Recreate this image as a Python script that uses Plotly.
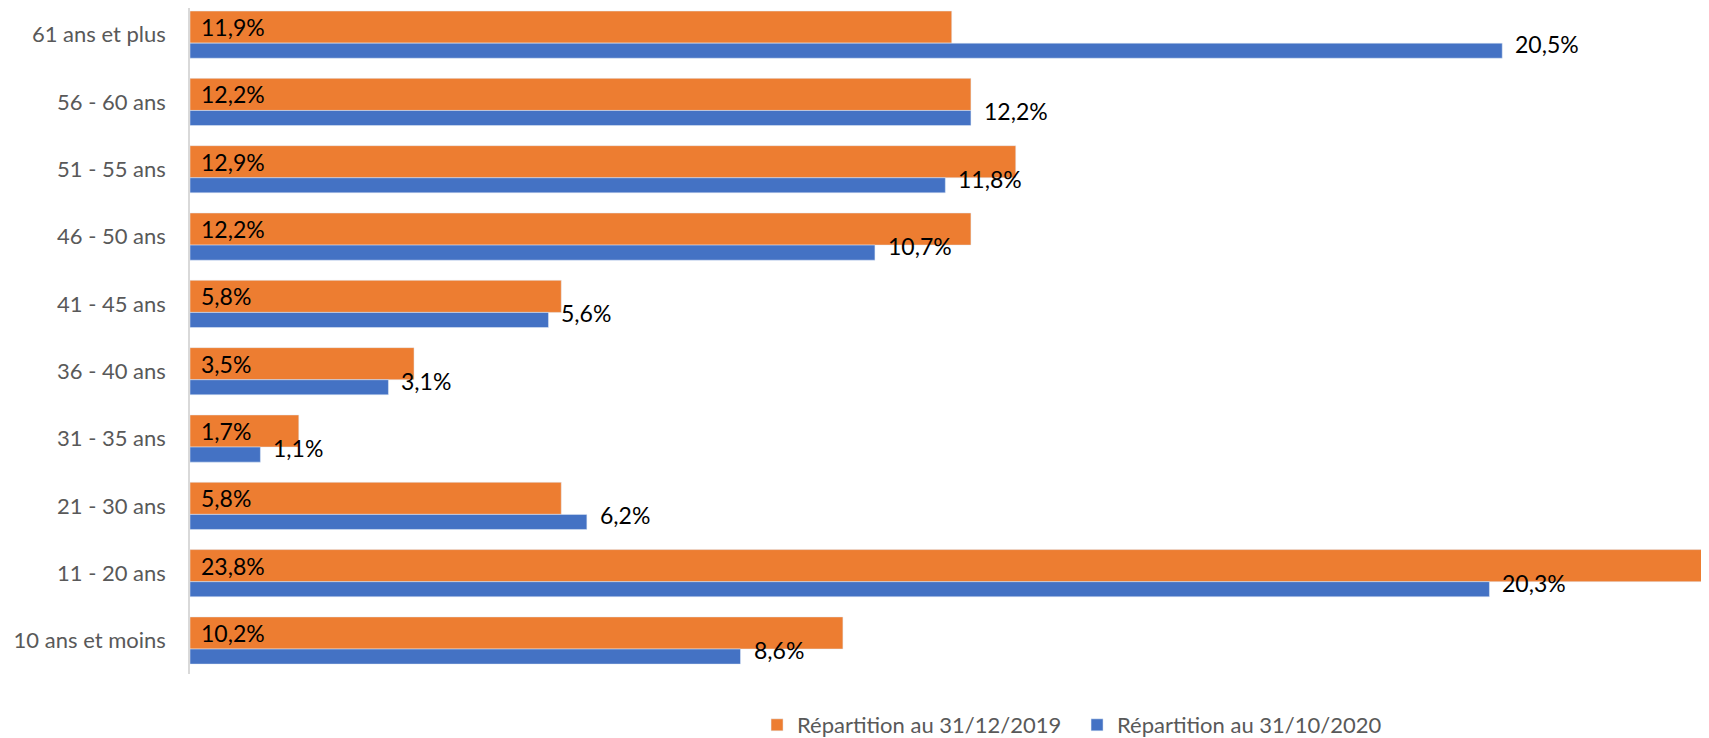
import plotly.graph_objects as go

# age groups, bottom to top
categories = ["10 ans et moins", "11 - 20 ans", "21 - 30 ans", "31 - 35 ans", "36 - 40 ans",
              "41 - 45 ans", "46 - 50 ans", "51 - 55 ans", "56 - 60 ans", "61 ans et plus"]

rep_2019 = [10.2, 23.8, 5.8, 1.7, 3.5, 5.8, 12.2, 12.9, 12.2, 11.9]
rep_2020 = [8.6, 20.3, 6.2, 1.1, 3.1, 5.6, 10.7, 11.8, 12.2, 20.5]

name_2019 = "Répartition au 31/12/2019"
name_2020 = "Répartition au 31/10/2020"

orange = "#ED7D31"
blue = "#4472C4"
font = "Lato"


def pct(v):
    return ("%.1f" % v).replace(".", ",") + "%"


fig = go.Figure()
fig.add_trace(go.Bar(name=name_2019, y=categories, x=rep_2019, orientation="h",
                     marker_color=orange, offset=-0.127, width=0.477))
fig.add_trace(go.Bar(name=name_2020, y=categories, x=rep_2020, orientation="h",
                     marker_color=blue, offset=-0.351, width=0.224))

# labels: orange at bar start, blue after bar end
annots = []
for c, v in zip(categories, rep_2019):
    annots.append(dict(x=0, y=c, text=pct(v), showarrow=False, xanchor="left",
                       xshift=9, yshift=7.5, font=dict(family=font, size=23, color="#000000")))
for c, v in zip(categories, rep_2020):
    annots.append(dict(x=v, y=c, text=pct(v), showarrow=False, xanchor="left",
                       xshift=11, yshift=-9.5, font=dict(family=font, size=23, color="#000000")))

# page has 8px body margin, so figure is 8px smaller than the window
fig.update_layout(
    width=1701, height=730,
    barmode="overlay",
    margin=dict(l=182, r=0, t=0, b=64, autoexpand=False),
    paper_bgcolor="white", plot_bgcolor="white",
    annotations=annots,
    legend=dict(orientation="h", x=0.3733, xanchor="left", y=-0.0766, yanchor="middle",
                font=dict(family=font, size=22, color="#595959"), traceorder="normal",
                entrywidth=275, entrywidthmode="pixels"),
    font=dict(family=font),
)
fig.update_xaxes(range=[0, 23.73], showgrid=False, showticklabels=False, zeroline=False)
fig.update_yaxes(type="category", categoryorder="array", categoryarray=categories,
                 range=[-0.498, 9.395], showline=True, linecolor="#d9d9d9", linewidth=1.5,
                 showgrid=False, ticks="", ticklabelstandoff=18, automargin=False,
                 tickfont=dict(family=font, size=22, color="#595959"))

fig.write_html("out.html")
